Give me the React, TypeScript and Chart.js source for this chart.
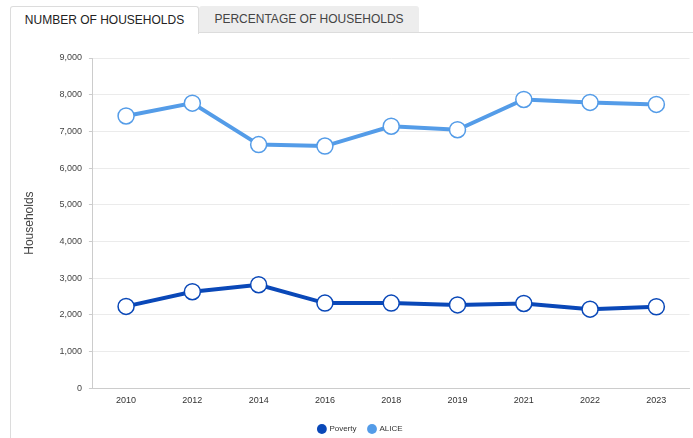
import React, { useEffect, useRef } from "react";
import { Chart, registerables } from "chart.js";

Chart.register(...registerables);

const years = ["2010", "2012", "2014", "2016", "2018", "2019", "2021", "2022", "2023"];
const povertyValues = [2230, 2630, 2820, 2320, 2320, 2270, 2310, 2155, 2220];
const aliceValues = [7420, 7770, 6640, 6600, 7140, 7045, 7870, 7790, 7735];
const yTicks = [0, 1000, 2000, 3000, 4000, 5000, 6000, 7000, 8000, 9000];

const POVERTY = "#0a48b8";
const ALICE = "#549ce8";
const FONT = "'Liberation Sans', Arial, sans-serif";

export default function App() {
  const ref = useRef<HTMLCanvasElement | null>(null);

  useEffect(() => {
    if (!ref.current) return;
    const chart = new Chart(ref.current, {
      type: "line",
      data: {
        labels: years,
        datasets: [
          {
            label: "Poverty",
            data: povertyValues,
            borderColor: POVERTY,
            backgroundColor: POVERTY,
            borderWidth: 4,
            pointRadius: 8,
            pointHoverRadius: 8,
            pointBackgroundColor: "#ffffff",
            pointBorderColor: POVERTY,
            pointBorderWidth: 1.5,
            tension: 0,
          },
          {
            label: "ALICE",
            data: aliceValues,
            borderColor: ALICE,
            backgroundColor: ALICE,
            borderWidth: 4,
            pointRadius: 8,
            pointHoverRadius: 8,
            pointBackgroundColor: "#ffffff",
            pointBorderColor: ALICE,
            pointBorderWidth: 1.5,
            tension: 0,
          },
        ],
      },
      options: {
        animation: false,
        responsive: false,
        maintainAspectRatio: false,
        layout: { padding: { left: 11, right: 0, top: 24, bottom: 0 } },
        plugins: {
          tooltip: { enabled: false },
          legend: {
            position: "bottom",
            labels: {
              usePointStyle: true,
              pointStyle: "circle",
              boxWidth: 7,
              boxHeight: 7,
              padding: 12,
              color: "#333",
              font: { family: FONT, size: 8 },
              generateLabels: (c: any) =>
                c.data.datasets.map((ds: any, i: number) => ({
                  text: ds.label,
                  fillStyle: ds.borderColor,
                  strokeStyle: ds.borderColor,
                  lineWidth: 0,
                  pointStyle: "circle",
                  hidden: !c.isDatasetVisible(i),
                  datasetIndex: i,
                  fontColor: "#333",
                })),
            },
          },
        },
        scales: {
          x: {
            offset: true,
            grid: { display: false, drawTicks: false },
            border: { color: "#cccccc", width: 1 },
            ticks: {
              color: "#333",
              font: { family: FONT, size: 9 },
              padding: 7,
              maxRotation: 0,
            },
          },
          y: {
            min: 0,
            max: 9000,
            afterBuildTicks: (axis: any) => {
              axis.ticks = yTicks.map((v) => ({ value: v }));
            },
            grid: {
              color: "#ebebeb",
              tickColor: "#cccccc",
              tickLength: 4,
            },
            border: { color: "#cccccc", width: 1 },
            ticks: {
              color: "#444",
              font: { family: FONT, size: 9 },
              padding: 7,
              callback: (v: any) => Number(v).toLocaleString("en-US"),
            },
            title: {
              display: true,
              text: "Households",
              color: "#444",
              font: { family: FONT, size: 12 },
              padding: { top: 0, bottom: 16 },
            },
          },
        },
      },
    });
    return () => chart.destroy();
  }, []);

  const tabBase: React.CSSProperties = {
    position: "absolute",
    top: 6,
    height: 26,
    boxSizing: "border-box",
    fontFamily: FONT,
    fontSize: 12,
    lineHeight: "26px",
    textAlign: "center",
    border: "1px solid #dcdcdc",
    borderBottom: "none",
    borderRadius: "3px 3px 0 0",
  };

  return (
    <div
      style={{
        position: "fixed",
        left: 0,
        top: 0,
        width: 693,
        height: 438,
        background: "#fff",
        overflow: "hidden",
      }}
    >
      <div style={{ position: "absolute", left: 198, top: 32, width: 495, height: 1, background: "#dcdcdc" }} />
      <div style={{ position: "absolute", left: 10, top: 32, width: 1, height: 406, background: "#dcdcdc" }} />
      <div style={{ ...tabBase, left: 10, width: 189, height: 28, background: "#fff", color: "#222" }}>
        NUMBER OF HOUSEHOLDS
      </div>
      <div style={{ ...tabBase, left: 199, width: 220, background: "#ededed", color: "#444", border: "none" }}>
        PERCENTAGE OF HOUSEHOLDS
      </div>
      <canvas
        ref={ref}
        width={688}
        height={409}
        style={{ position: "absolute", left: 11, top: 34, width: 688, height: 409 }}
      />
    </div>
  );
}
